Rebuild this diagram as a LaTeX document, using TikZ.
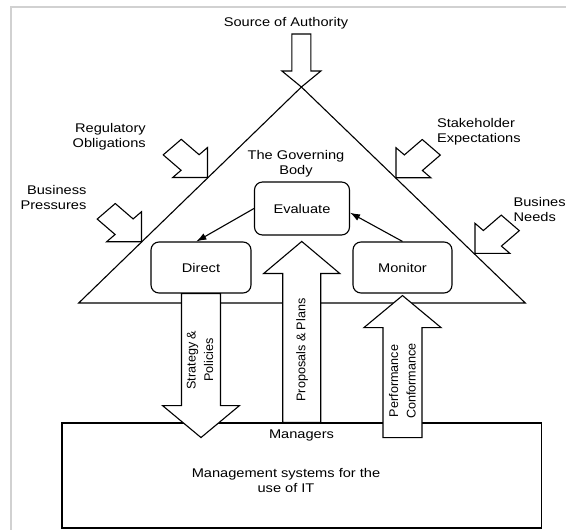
\documentclass[tikz,border=0pt]{standalone}
\usepackage{fontspec}
\setmainfont{Liberation Sans}[FakeStretch=1.16]
\newfontfamily\rotsans{Liberation Sans}
\usepackage{tikz}
\usetikzlibrary{arrows.meta}
\tikzset{
  gbline/.style={line width=1.1pt, draw=black, line join=miter},
  gbbox/.style={draw=black, line width=1.1pt, fill=white, rounded corners=8pt, inner sep=0pt},
  gbblock/.style={draw=black, line width=1.1pt, fill=white, line join=miter},
  gbthin/.style={draw=black, line width=1.1pt, -{Latex[length=10pt,width=7pt]}},
  gbframe/.style={draw=black!18, line width=1.6pt},
  gblabel/.style={align=center, inner sep=0pt},
  gbright/.style={align=right, anchor=east, inner sep=0pt},
  gbside/.style={align=left, anchor=west, inner sep=0pt},
  gbturned/.style={align=center, inner sep=0pt, rotate=90, font=\rotsans\fontsize{12.6}{17.5}\selectfont},
  pics/gbpush/.style={code={
    \draw[gbblock, xscale=1.16, rotate=#1] (0,0) -- (-21.2,21.2) -- (-21.2,11) -- (-43,11)
      -- (-43,-11) -- (-21.2,-11) -- (-21.2,-21.2) -- cycle;
  }},
}
\begin{document}
\begin{tikzpicture}[x=1pt, y=-1pt, font=\fontsize{12.6}{15}\selectfont]
\useasboundingbox (0,0) rectangle (566,530);
\fill[white] (0,0) rectangle (566,530);
\draw[gbframe] (10.8,545) -- (10.8,7) -- (580,7);

\coordinate (apex) at (301.4,87);
\coordinate (baseL) at (78.7,303);
\coordinate (baseR) at (525.3,303);
\draw[gbline] (apex) -- (baseL) -- (baseR) -- cycle;

\node[gblabel] (source) at (286,23) {Source of Authority};
\draw[gbblock, shift={(apex)}] (-9.5,-53) -- (9.5,-53) -- (9.5,-16) -- (19.5,-16) -- (0,0)
  -- (-19.5,-16) -- (-9.5,-16) -- cycle;

\node[gbright] (regulatory) at (146,136.5) {Regulatory\\Obligations};
\node[gbright] (pressures) at (86.6,197) {Business\\Pressures};
\node[gbside] (stakeholder) at (436.8,131.5) {Stakeholder\\Expectations};
\node[gbside] (needs) at (513.4,209) {Business\\Needs};
\pic at (207.5,177.5) {gbpush=-45};
\pic at (141.5,241.7) {gbpush=-45};
\pic at (396,177.7) {gbpush=-135};
\pic at (475,253.3) {gbpush=-135};

\node[gblabel] (body) at (296,163.5) {The Governing\\Body};
\node[gbbox, minimum width=95pt, minimum height=53pt] (evaluate) at (302,208.5) {Evaluate};
\node[gbbox, minimum width=100pt, minimum height=51pt] (direct) at (201,267.5) {Direct};
\node[gbbox, minimum width=99pt, minimum height=51pt] (monitor) at (402.5,267.5) {Monitor};
\draw[gbthin] (evaluate.west) -- (direct.100);
\draw[gbthin] (monitor.north) -- (evaluate.-5);

\node[draw=black, line width=1.1pt, fill=white, minimum width=479.5pt, minimum height=105pt,
  inner sep=0pt] (mgmt) at (301.75,475.5) {};
\node[gblabel] (systems) at (286,480) {Management systems for the\\use of IT};
\node[gblabel] (managers) at (301.5,435) {Managers};

\draw[gbblock, shift={(direct.south)}] (-19.5,0) -- (19.5,0) -- (19.5,112) -- (38.5,112) -- (0,144)
  -- (-38.5,112) -- (-19.5,112) -- cycle;
\draw[gbblock, shift={(mgmt.north)}] (-19,0) -- (19,0) -- (19,-149) -- (38,-149) -- (0,-181)
  -- (-38,-149) -- (-19,-149) -- cycle;
\draw[gbblock, shift={(monitor.south)}] (-19.5,144) -- (19.5,144) -- (19.5,34) -- (38.5,34) -- (0,2)
  -- (-38.5,34) -- (-19.5,34) -- cycle;

\node[gbturned] (strategy) at (200,360) {Strategy \&\\Policies};
\node[gbturned] (proposals) at (302,350) {Proposals \& Plans};
\node[gbturned] (perform) at (402.5,381) {Performance\\Conformance};
\end{tikzpicture}
\end{document}
